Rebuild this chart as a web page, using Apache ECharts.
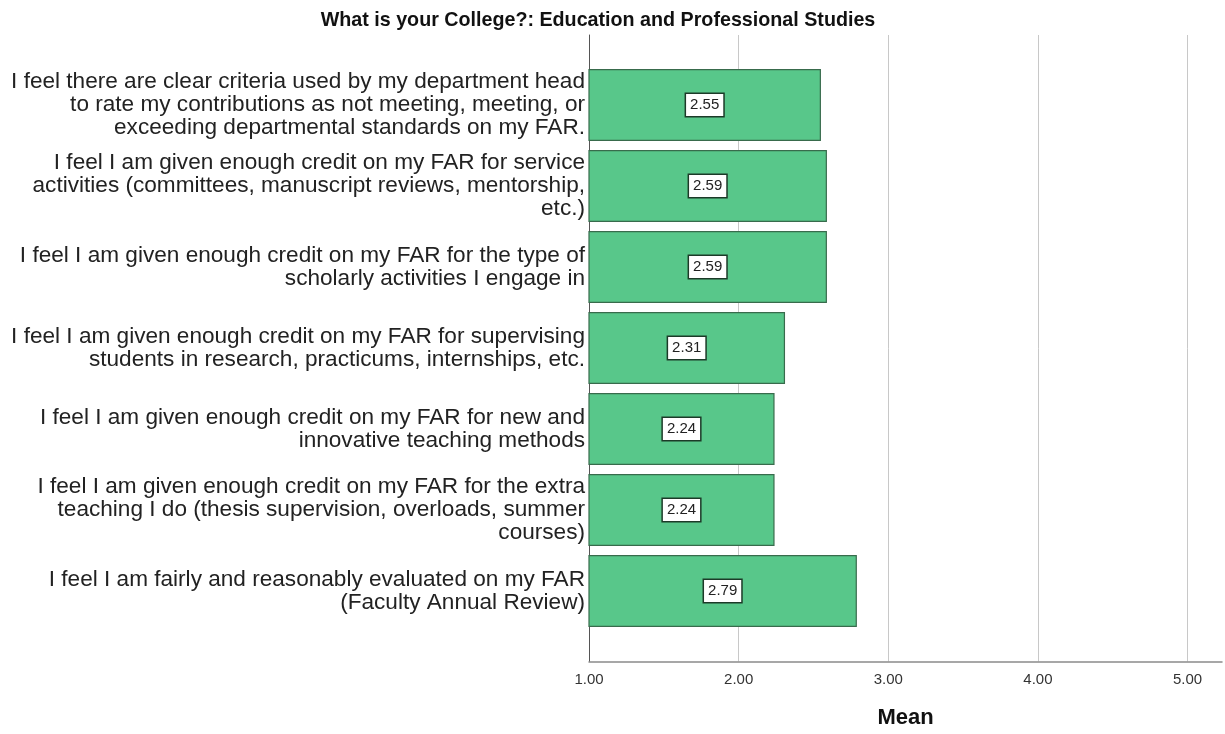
<!DOCTYPE html>
<html>
<head>
<meta charset="utf-8">
<script src="https://cdn.jsdelivr.net/npm/echarts@6/dist/echarts.min.js"></script>
<style>
  html, body { margin: 0; padding: 0; background: #fff; }
  #chart { width: 1225px; height: 734px; }
</style>
</head>
<body>
<div id="chart"></div>
<script>
// Survey items (top to bottom) and their mean ratings
const categories = [
  'I feel there are clear criteria used by my department head\nto rate my contributions as not meeting, meeting, or\nexceeding departmental standards on my FAR.',
  'I feel I am given enough credit on my FAR for service\nactivities (committees, manuscript reviews, mentorship,\netc.)',
  'I feel I am given enough credit on my FAR for the type of\nscholarly activities I engage in',
  'I feel I am given enough credit on my FAR for supervising\nstudents in research, practicums, internships, etc.',
  'I feel I am given enough credit on my FAR for new and\ninnovative teaching methods',
  'I feel I am given enough credit on my FAR for the extra\nteaching I do (thesis supervision, overloads, summer\ncourses)',
  'I feel I am fairly and reasonably evaluated on my FAR\n(Faculty Annual Review)'
];
const means = [2.55, 2.59, 2.59, 2.31, 2.24, 2.24, 2.79];
const xTicks = [1, 2, 3, 4, 5];

const FONT = '"Liberation Sans", Arial, sans-serif';
const X_MIN = xTicks[0];
const X_MAX = 5.23;

const chart = echarts.init(document.getElementById('chart'));
chart.setOption({
  backgroundColor: '#ffffff',
  animation: false,
  title: {
    text: 'What is your College?: Education and Professional Studies',
    left: 593,
    top: 6,
    textAlign: 'center',
    textStyle: { fontFamily: FONT, fontSize: 19.7, fontWeight: 'bold', color: '#111' }
  },
  grid: [
    // full plot frame: axes and grid lines
    { left: 589, right: 3, top: 35, bottom: 72.5 },
    // inner band holding the bars
    { left: 589, right: 3, top: 64.5, bottom: 102.5 }
  ],
  xAxis: [
    {
      gridIndex: 0,
      type: 'value',
      min: X_MIN,
      max: X_MAX,
      interval: 1,
      name: 'Mean',
      nameLocation: 'middle',
      nameGap: 45,
      nameTextStyle: { fontFamily: FONT, fontSize: 22, fontWeight: 'bold', color: '#111' },
      axisLine: { show: true, lineStyle: { color: '#8a8a8a', width: 1.5 } },
      axisTick: { show: false },
      axisLabel: {
        fontFamily: FONT, fontSize: 15, color: '#333', margin: 11,
        showMaxLabel: false,
        formatter: v => v.toFixed(2)
      },
      splitLine: { show: true, showMaxLine: false, lineStyle: { color: '#c8c8c8', width: 1 } }
    },
    {
      gridIndex: 1,
      type: 'value',
      min: X_MIN,
      max: X_MAX,
      show: false,
      splitLine: { show: false }
    }
  ],
  yAxis: [
    {
      gridIndex: 0,
      type: 'value',
      min: 0,
      max: 1,
      axisLine: { show: true, lineStyle: { color: '#555', width: 1 } },
      axisTick: { show: false },
      axisLabel: { show: false },
      splitLine: { show: false }
    },
    {
      gridIndex: 1,
      type: 'category',
      inverse: true,
      data: categories,
      axisLine: { show: false },
      axisTick: { show: false },
      axisLabel: {
        fontFamily: FONT, fontSize: 22.6, color: '#222', margin: 4,
        lineHeight: 23, align: 'right'
      }
    }
  ],
  series: [{
    type: 'bar',
    xAxisIndex: 1,
    yAxisIndex: 1,
    data: means,
    barCategoryGap: '11%',
    itemStyle: { color: '#58c78a', borderColor: '#386b4c', borderWidth: 1.2 },
    label: {
      show: true,
      position: 'inside',
      fontFamily: FONT,
      fontSize: 15,
      color: '#222',
      backgroundColor: '#ffffff',
      borderColor: '#1c3a28',
      borderWidth: 1.5,
      padding: [4, 4, 3, 4],
      formatter: p => p.value.toFixed(2)
    }
  }]
});
</script>
</body>
</html>
